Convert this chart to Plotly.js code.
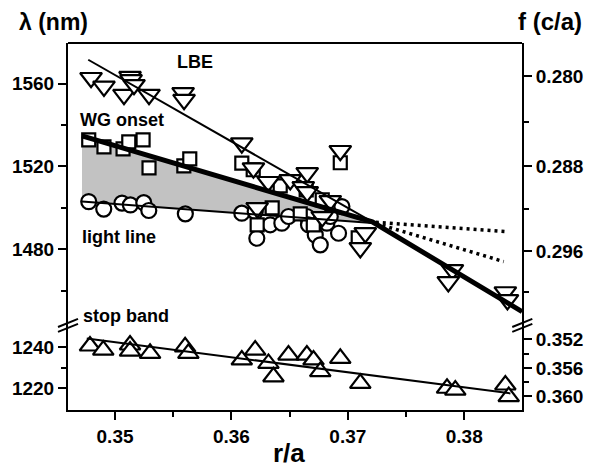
<!DOCTYPE html>
<html><head><meta charset="utf-8">
<script src="https://cdn.plot.ly/plotly-3.0.1.min.js"></script>
<style>html,body{margin:0;padding:0;background:#fff}</style>
</head><body><div id="chart" style="width:589px;height:468px"></div>
<script>
// ---- data ----
const lbeX = [0.34794,0.34905,0.35129,0.35138,0.35077,0.35163,0.35292,0.35585,0.35593,0.36089,0.36189,0.36316,0.36505,0.36651,0.36617,0.36651,0.36849,0.36935,0.36221,0.36780,0.37107,0.37150,0.37898,0.37863,0.38353,0.38371];
const lbeY = [1562.9,1558.7,1563.4,1561.9,1554.7,1559.5,1554.7,1555.6,1552.3,1531.3,1519.2,1512.6,1513.5,1516.9,1510.1,1507.7,1503.4,1527.6,1500.0,1495.6,1480.6,1487.9,1470.0,1464.2,1459.3,1455.5];

const wgX = [0.34774,0.34905,0.35069,0.35118,0.35241,0.35292,0.35591,0.35642,0.36089,0.36187,0.36419,0.36642,0.36350,0.36221,0.36703,0.36591,0.36935,0.37089,0.36780];
const wgY = [1532.9,1529.5,1528.5,1531.9,1532.9,1519.3,1520.3,1523.7,1521.6,1518.4,1510.6,1508.7,1500.0,1491.8,1491.8,1497.1,1521.8,1485.5,1503.9];

const lightX = [0.34774,0.34903,0.35060,0.35132,0.35247,0.35290,0.35604,0.36089,0.36204,0.36218,0.36333,0.36433,0.36490,0.36648,0.36662,0.36720,0.36763,0.36820,0.36920,0.36949,0.36849];
const lightY = [1503.0,1499.4,1502.3,1501.4,1502.5,1498.7,1497.1,1497.4,1498.2,1485.3,1491.8,1492.6,1495.8,1495.8,1491.8,1486.9,1482.1,1492.6,1487.7,1500.6,1495.8];

const stopX = [0.34785,0.34899,0.35129,0.35129,0.35301,0.35602,0.35630,0.36089,0.36204,0.36318,0.36361,0.36490,0.36648,0.36705,0.36763,0.36935,0.37107,0.37852,0.37923,0.38353,0.38382];
const stopY = [1240.5,1238.5,1241.0,1238.0,1236.9,1240.1,1236.9,1233.7,1238.5,1232.0,1225.5,1236.1,1236.1,1233.7,1228.0,1234.5,1222.3,1219.9,1219.0,1221.5,1215.8];

// fitted lines
const lbeFitX = [0.3477, 0.3721];
const lbeFitY = [1571.6, 1493.2];
const wgFitX = [0.34716, 0.3721, 0.38497];
const wgFitY = [1534.8, 1493.2, 1449.8];
const lightFitX = [0.34716, 0.3721];
const lightFitY = [1503.0, 1492.7];
const wgShadeY = [1534.8, 1493.2];
const dotUpX = [0.3724, 0.38353];
const dotUpY = [1493.0, 1488.5];
const dotLowX = [0.3724, 0.38339];
const dotLowY = [1492.5, 1474.0];
const stopFitX = [0.34757, 0.38396];
const stopFitY = [1244.2, 1217.4];

// axis labels
const xTickVals = [0.35, 0.36, 0.37, 0.38];
const xTickText = ['0.35', '0.36', '0.37', '0.38'];
const fTopTicks = [0.280, 0.288, 0.296];
const fTopMinor = [0.284, 0.292, 0.300];
const fBotTicks = [0.352, 0.356, 0.360];
const fBotMinor = [0.354, 0.358];
const latticeA = 437.8; // f = a / lambda

// ---- styles ----
const FONT = 'Liberation Sans, Arial, sans-serif';
const tickFont = {family: FONT, size: 19, color: '#000', weight: 'bold'};
const mk = (sym, size) => ({symbol: sym, size: size, color: '#fff', line: {color: '#000', width: 2.2}});

const traces = [
  {x: lightFitX, y: lightFitY, mode: 'lines', line: {width: 0, color: 'rgba(0,0,0,0)'}, xaxis: 'x', yaxis: 'y', hoverinfo: 'skip'},
  {x: lightFitX, y: wgShadeY, mode: 'lines', line: {width: 0, color: 'rgba(0,0,0,0)'}, fill: 'tonexty', fillcolor: '#c2c2c2', xaxis: 'x', yaxis: 'y', hoverinfo: 'skip'},
  {x: lightX, y: lightY, mode: 'markers', marker: mk('circle', 15), xaxis: 'x', yaxis: 'y'},
  {x: wgX, y: wgY, mode: 'markers', marker: mk('square', 13), xaxis: 'x', yaxis: 'y'},
  {x: lbeX, y: lbeY, mode: 'markers', marker: mk('triangle-down', 19), xaxis: 'x', yaxis: 'y'},
  {x: stopX, y: stopY, mode: 'markers', marker: mk('triangle-up', 18), xaxis: 'x', yaxis: 'y2'},
  {x: lightFitX, y: lightFitY, mode: 'lines', line: {color: '#000', width: 2}, xaxis: 'x', yaxis: 'y'},
  {x: lbeFitX, y: lbeFitY, mode: 'lines', line: {color: '#000', width: 2}, xaxis: 'x', yaxis: 'y'},
  {x: dotUpX, y: dotUpY, mode: 'lines', line: {color: '#000', width: 3.5, dash: '3px,4px'}, xaxis: 'x', yaxis: 'y'},
  {x: dotLowX, y: dotLowY, mode: 'lines', line: {color: '#000', width: 3.5, dash: '3px,4px'}, xaxis: 'x', yaxis: 'y'},
  {x: wgFitX, y: wgFitY, mode: 'lines', line: {color: '#000', width: 5}, xaxis: 'x', yaxis: 'y'},
  {x: stopFitX, y: stopFitY, mode: 'lines', line: {color: '#000', width: 2}, xaxis: 'x', yaxis: 'y2'},
  {x: [], y: [], mode: 'markers', xaxis: 'x', yaxis: 'y3', hoverinfo: 'skip'},
  {x: [], y: [], mode: 'markers', xaxis: 'x', yaxis: 'y4', hoverinfo: 'skip'}
];

const split = 0.2263;
const topRange = [1442.4, 1579.7];
const botRange = [1209.3, 1249.8];
const axBase = {showline: true, linewidth: 2, linecolor: '#000', showgrid: false, zeroline: false,
  ticks: 'outside', ticklen: 8, tickwidth: 2, tickcolor: '#000', tickfont: tickFont, fixedrange: true};

const layout = {
  width: 589, height: 468,
  margin: {l: 68, r: 67, t: 43, b: 58},
  paper_bgcolor: '#fff', plot_bgcolor: '#fff',
  showlegend: false,
  xaxis: Object.assign({}, axBase, {domain: [0, 1], anchor: 'y2', range: [0.34596, 0.38496],
    tickmode: 'array', tickvals: xTickVals, ticktext: xTickText,
    minor: {tickvals: [0.355, 0.365, 0.375], ticks: 'outside', ticklen: 5, tickwidth: 2, tickcolor: '#000'}}),
  yaxis: Object.assign({}, axBase, {domain: [split, 1], anchor: 'x', range: topRange,
    tickmode: 'array', tickvals: [1480, 1520, 1560],
    minor: {tickvals: [1460, 1500, 1540], ticks: 'outside', ticklen: 5, tickwidth: 2, tickcolor: '#000'}}),
  yaxis2: Object.assign({}, axBase, {domain: [0, split], anchor: 'x', range: botRange,
    tickmode: 'array', tickvals: [1220, 1240],
    minor: {tickvals: [1230], ticks: 'outside', ticklen: 5, tickwidth: 2, tickcolor: '#000'}}),
  yaxis3: Object.assign({}, axBase, {overlaying: 'y', side: 'right', anchor: 'x', range: topRange,
    tickmode: 'array', tickvals: fTopTicks.map(f => latticeA / f), ticktext: fTopTicks.map(f => f.toFixed(3)),
    minor: {tickvals: fTopMinor.map(f => latticeA / f), ticks: 'outside', ticklen: 5, tickwidth: 2, tickcolor: '#000'}}),
  yaxis4: Object.assign({}, axBase, {overlaying: 'y2', side: 'right', anchor: 'x', range: botRange,
    tickmode: 'array', tickvals: fBotTicks.map(f => latticeA / f), ticktext: fBotTicks.map(f => f.toFixed(3)),
    minor: {tickvals: fBotMinor.map(f => latticeA / f), ticks: 'outside', ticklen: 5, tickwidth: 2, tickcolor: '#000'}}),
  shapes: [
    {type: 'line', xref: 'paper', yref: 'paper', x0: 0, x1: 1, y0: 1, y1: 1, line: {color: '#000', width: 2}},
    {type: 'line', xref: 'paper', yref: 'paper', x0: -0.022, x1: 0.022, y0: 0.2263, y1: 0.2482, line: {color: '#000', width: 2}},
    {type: 'line', xref: 'paper', yref: 'paper', x0: -0.022, x1: 0.022, y0: 0.2127, y1: 0.2345, line: {color: '#000', width: 2}},
    {type: 'line', xref: 'paper', yref: 'paper', x0: 0.9786, x1: 1.0227, y0: 0.2263, y1: 0.2482, line: {color: '#000', width: 2}},
    {type: 'line', xref: 'paper', yref: 'paper', x0: 0.9786, x1: 1.0227, y0: 0.2127, y1: 0.2345, line: {color: '#000', width: 2}}
  ],
  annotations: [
    {text: 'λ (nm)', xref: 'paper', yref: 'paper', x: -0.031, y: 1.058, showarrow: false, xanchor: 'center', yanchor: 'middle',
      font: {family: FONT, size: 23, color: '#000', weight: 'bold'}},
    {text: 'f (c/a)', xref: 'paper', yref: 'paper', x: 1.062, y: 1.058, showarrow: false, xanchor: 'center', yanchor: 'middle',
      font: {family: FONT, size: 24, color: '#000', weight: 'bold'}},
    {text: 'r/a', xref: 'paper', yref: 'paper', x: 0.487, y: -0.117, showarrow: false, xanchor: 'center', yanchor: 'middle',
      font: {family: FONT, size: 26, color: '#000', weight: 'bold'}},
    {text: 'LBE', xref: 'x', yref: 'y', x: 0.35688, y: 1570.6, showarrow: false, font: {family: FONT, size: 18, color: '#000', weight: 'bold'}},
    {text: 'WG onset', xref: 'x', yref: 'y', x: 0.3506, y: 1542.6, showarrow: false, font: {family: FONT, size: 18, color: '#000', weight: 'bold'}},
    {text: 'light line', xref: 'x', yref: 'y', x: 0.35034, y: 1486.0, showarrow: false, font: {family: FONT, size: 18, color: '#000', weight: 'bold'}},
    {text: 'stop band', xref: 'x', yref: 'y', x: 0.35095, y: 1447.7, showarrow: false, font: {family: FONT, size: 18, color: '#000', weight: 'bold'}}
  ]
};

Plotly.newPlot('chart', traces, layout, {displayModeBar: false, staticPlot: true});
</script>
</body></html>
